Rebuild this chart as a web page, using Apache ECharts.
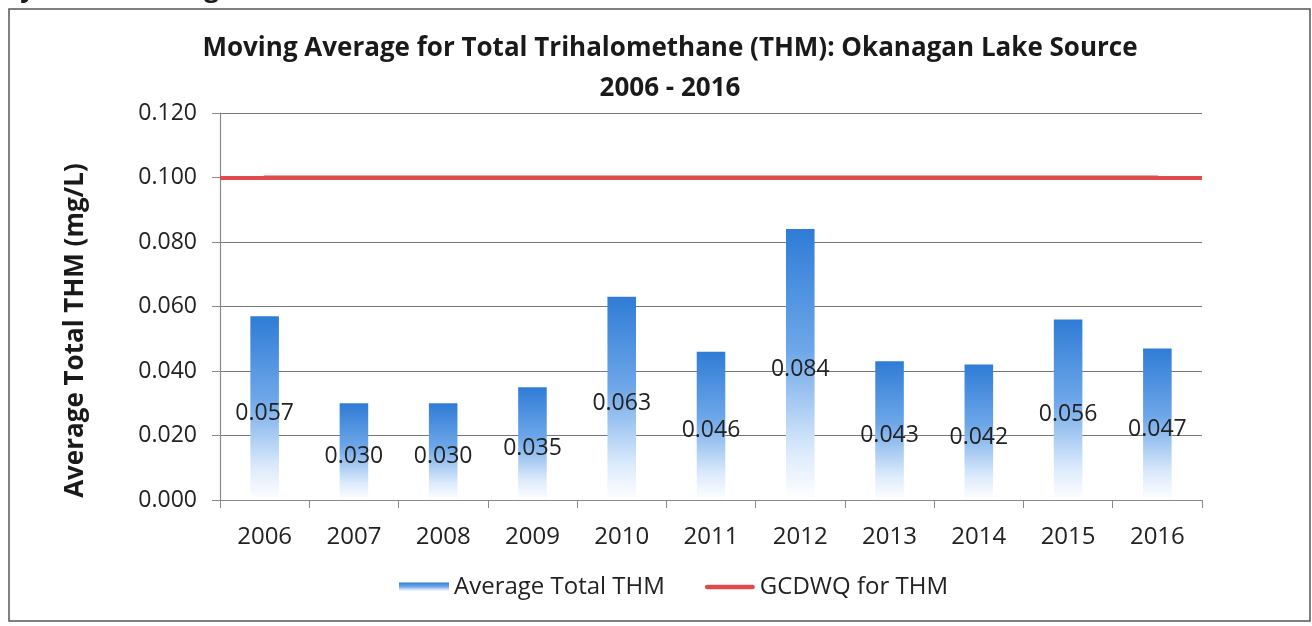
<!DOCTYPE html>
<html>
<head>
<meta charset="utf-8">
<title>Moving Average for Total Trihalomethane (THM)</title>
<script src="https://cdn.jsdelivr.net/npm/echarts@6/dist/echarts.min.js"></script>
<style>
  html, body { margin: 0; padding: 0; background: #ffffff; }
  #chart { width: 1312px; height: 626px; }
</style>
</head>
<body>
<div id="chart"></div>
<script>
// Yearly moving average of total THM (mg/L), Okanagan Lake source
const years = ['2006', '2007', '2008', '2009', '2010', '2011', '2012', '2013', '2014', '2015', '2016'];
const avgTotalTHM = [0.057, 0.030, 0.030, 0.035, 0.063, 0.046, 0.084, 0.043, 0.042, 0.056, 0.047];
// Guideline (GCDWQ) maximum for THM
const gcdwqLimit = 0.100;
const gcdwqSeries = years.map(() => gcdwqLimit);

const yTicks = { min: 0, max: 0.12, interval: 0.02 };

const FONT = '"Open Sans", "Noto Sans", sans-serif';

const barGradient = new echarts.graphic.LinearGradient(0, 0, 0, 1, [
  { offset: 0, color: '#2f7cd6' },
  { offset: 0.45, color: '#6ea7e9' },
  { offset: 0.82, color: '#dbeafb' },
  { offset: 1, color: '#ffffff' }
]);

// rounded bar used as the legend glyph for the guideline line
const lineIcon = 'path://M2.5,0 H52.5 A2.5,2.5 0 0 1 52.5,5 H2.5 A2.5,2.5 0 0 1 2.5,0 Z';

const chart = echarts.init(document.getElementById('chart'), null, { renderer: 'canvas' });

chart.setOption({
  backgroundColor: '#ffffff',
  animation: false,
  title: {
    text: 'Moving Average for Total Trihalomethane (THM): Okanagan Lake Source\n2006 - 2016',
    left: 665,
    top: 24,
    textAlign: 'center',
    textStyle: {
      fontFamily: FONT,
      fontSize: 26,
      fontWeight: 'bold',
      color: '#1a1a1a',
      lineHeight: 40
    }
  },
  graphic: [
    {
      type: 'rect',
      shape: { x: 9, y: 9, width: 1301, height: 612 },
      style: { fill: 'none', stroke: '#555555', lineWidth: 1.5 },
      silent: true
    },
    {
      type: 'text',
      left: 6,
      top: -23,
      style: {
        text: 'System Drinking',
        font: 'bold 26px ' + FONT,
        fill: '#1a1a1a'
      },
      silent: true
    }
  ],
  legend: {
    left: 394,
    top: 570,
    itemGap: 40,
    itemWidth: 50,
    itemHeight: 9,
    textStyle: { fontFamily: FONT, fontSize: 24, color: '#222222' },
    data: [
      { name: 'Average Total THM', icon: 'rect' },
      { name: 'GCDWQ for THM', icon: lineIcon, itemStyle: { color: '#e04b4b' } }
    ]
  },
  grid: {
    left: 220,
    right: 110,
    top: 113,
    bottom: 126,
    containLabel: false
  },
  xAxis: {
    type: 'category',
    data: years,
    boundaryGap: true,
    axisLine: { show: true, lineStyle: { color: '#8a8a8a', width: 1.2 } },
    axisTick: { show: true, alignWithLabel: false, length: 8, lineStyle: { color: '#8a8a8a' } },
    axisLabel: { fontFamily: FONT, fontSize: 24, color: '#222222', margin: 25 }
  },
  yAxis: {
    type: 'value',
    min: yTicks.min,
    max: yTicks.max,
    interval: yTicks.interval,
    name: 'Average Total THM (mg/L)',
    nameLocation: 'middle',
    nameRotate: 90,
    nameGap: 131,
    nameTextStyle: {
      fontFamily: FONT,
      fontSize: 26,
      fontWeight: 'bold',
      color: '#1a1a1a',
      padding: [0, 48, 0, 0]
    },
    axisLine: { show: true, lineStyle: { color: '#8a8a8a', width: 1.2 } },
    axisTick: { show: true, length: 8, lineStyle: { color: '#8a8a8a' } },
    axisLabel: {
      fontFamily: FONT,
      fontSize: 23,
      color: '#222222',
      margin: 23,
      formatter: v => v.toFixed(3)
    },
    splitLine: { show: true, lineStyle: { color: '#777777', width: 1.2 } }
  },
  series: [
    {
      name: 'Average Total THM',
      type: 'bar',
      data: avgTotalTHM,
      barWidth: '32%',
      itemStyle: { color: barGradient },
      label: {
        show: true,
        position: 'inside',
        offset: [0, 5],
        fontFamily: FONT,
        fontSize: 23,
        color: '#222222',
        formatter: p => p.value.toFixed(3)
      },
      z: 2
    },
    {
      name: 'GCDWQ for THM',
      type: 'line',
      data: gcdwqSeries,
      symbol: 'none',
      itemStyle: { color: '#e04b4b' },
      lineStyle: { color: '#e04b4b', width: 4, cap: 'round' },
      markLine: {
        silent: true,
        symbol: 'none',
        label: { show: false },
        lineStyle: { color: '#e04b4b', width: 4, type: 'solid' },
        data: [{ yAxis: gcdwqLimit }]
      },
      z: 3
    }
  ]
});
</script>
</body>
</html>
